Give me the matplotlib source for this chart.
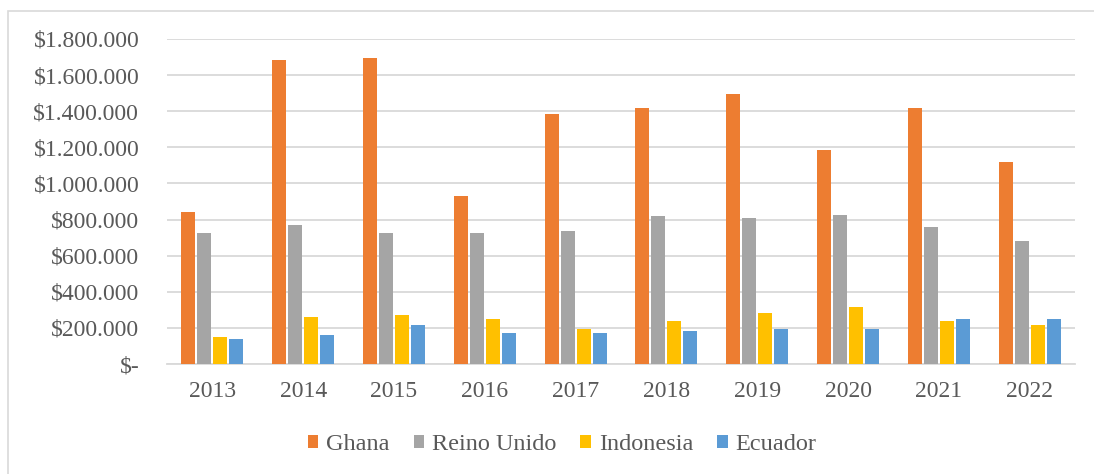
import numpy as np
import matplotlib
matplotlib.use("Agg")
import matplotlib.pyplot as plt
from matplotlib.patches import Rectangle

years = ["2013", "2014", "2015", "2016", "2017", "2018", "2019", "2020", "2021", "2022"]
ghana = [840000, 1683000, 1694000, 928000, 1383000, 1417000, 1494000, 1183000, 1417000, 1117000]
reino_unido = [728000, 772000, 728000, 728000, 739000, 817000, 806000, 828000, 761000, 683000]
indonesia = [150000, 261000, 272000, 250000, 194000, 239000, 283000, 317000, 239000, 217000]
ecuador = [139000, 161000, 217000, 172000, 172000, 183000, 194000, 194000, 250000, 250000]

series = [("Ghana", ghana, "#ED7D31"),
          ("Reino Unido", reino_unido, "#A5A5A5"),
          ("Indonesia", indonesia, "#FFC000"),
          ("Ecuador", ecuador, "#5B9BD5")]

plt.rcParams['font.family'] = ['Liberation Serif', 'DejaVu Serif']
text_color = "#595959"

fig = plt.figure(figsize=(10.94, 4.74), dpi=100)
ax = fig.add_axes([167 / 1094, 1 - 364 / 474, (1075 - 167) / 1094, (364 - 39) / 474])

x = np.arange(len(years))
width = 0.155
step = 0.176
for i, (name, vals, color) in enumerate(series):
    ax.bar(x + (i - 1.5) * step, vals, width, color=color, label=name, zorder=3)

ax.set_xlim(-0.5, len(years) - 0.5)
ax.set_ylim(0, 1800000)
ax.set_yticks(np.arange(0, 1800001, 200000))

def fmt(v, pos=None):
    if v == 0:
        return "$-"
    return "$" + f"{int(v):,}".replace(",", ".")

ax.yaxis.set_major_formatter(matplotlib.ticker.FuncFormatter(fmt))
ax.set_xticks(x)
ax.set_xticklabels(years)
ax.grid(axis="y", color="#D9D9D9", linewidth=1.3, zorder=0)
for s in ["top", "right", "left"]:
    ax.spines[s].set_visible(False)
ax.spines["bottom"].set_color("#D9D9D9")
ax.spines["bottom"].set_linewidth(1.3)
ax.tick_params(axis="both", length=0, labelsize=17, colors=text_color)
ax.tick_params(axis="y", pad=20)
ax.tick_params(axis="x", pad=12)

leg = fig.legend(loc="center", bbox_to_anchor=(562 / 1094, 1 - 445 / 474), ncol=4, frameon=False,
                 fontsize=17.5, handlelength=0.45, handleheight=0.45, handletextpad=0.3,
                 columnspacing=1.0)
for t in leg.get_texts():
    t.set_color(text_color)

fig.patches.append(Rectangle((8 / 1094, -0.1), 1.2, 1 - 11 / 474 + 0.1, transform=fig.transFigure,
                             fill=False, edgecolor="#D9D9D9", linewidth=1.2))

fig.savefig("out.png", dpi=100)
